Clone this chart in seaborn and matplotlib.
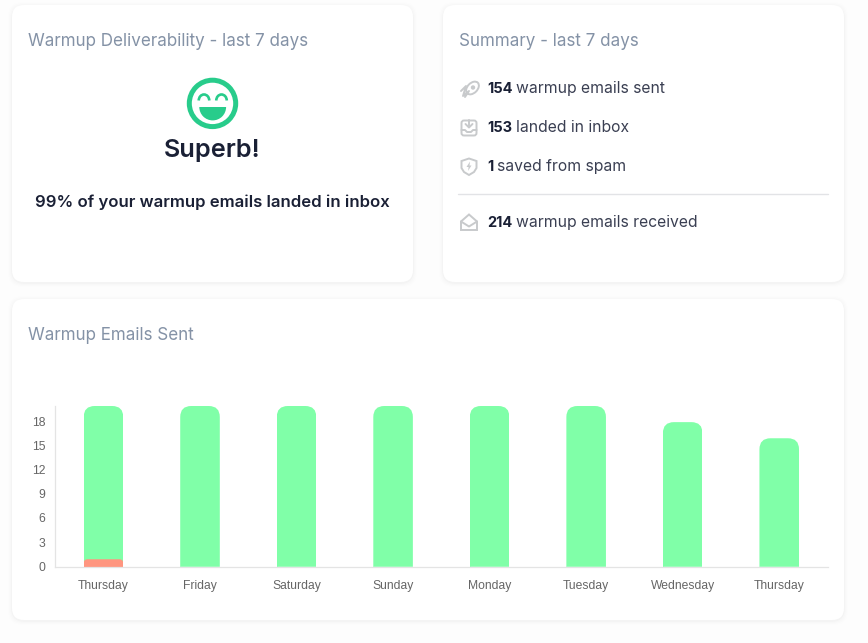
import matplotlib
matplotlib.use("Agg")
import matplotlib.pyplot as plt
import matplotlib.transforms as mtransforms
import numpy as np
import pandas as pd
import seaborn as sns
from matplotlib.patches import Arc, Circle, Ellipse, FancyBboxPatch, Polygon, Wedge

days = ["Thursday", "Friday", "Saturday", "Sunday", "Monday", "Tuesday", "Wednesday", "Thursday"]
sent = [20, 20, 20, 20, 20, 20, 18, 16]
spam = [1, 0, 0, 0, 0, 0, 0, 0]
y_ticks = [0, 3, 6, 9, 12, 15, 18]

summary_numbers = ["154", "153", "1", "214"]
summary_labels = ["warmup emails sent", "landed in inbox", "saved from spam", "warmup emails received"]

TITLE_COLOR = "#8492a6"
DARK = "#1a2035"
BODY = "#3a3f52"
ICON = "#c8cacc"
FONT = "Inter"

sns.set_theme(style="white")
plt.rcParams["font.family"] = [FONT, "DejaVu Sans"]

fig = plt.figure(figsize=(8.68, 6.43), dpi=100, facecolor="#fdfdfd")

# page layer in pixel coordinates, y going down
bg = fig.add_axes([0, 0, 1, 1])
bg.set_xlim(0, 868)
bg.set_ylim(643, 0)
bg.axis("off")


def card(x0, y0, x1, y1):
    for grow, alpha in [(4, 0.004), (3, 0.006), (2, 0.009), (1, 0.014)]:
        bg.add_patch(FancyBboxPatch((x0 - grow, y0 - grow + 1), x1 - x0 + 2 * grow, y1 - y0 + 2 * grow,
                                    boxstyle="round,pad=0,rounding_size=14", fc="black", ec="none", alpha=alpha))
    bg.add_patch(FancyBboxPatch((x0, y0), x1 - x0, y1 - y0, boxstyle="round,pad=0,rounding_size=12",
                                fc="white", ec="none"))


card(12, 5, 413, 282)
card(443, 5, 844, 282)
card(12, 299, 844, 620)

bg.text(28, 42, "Warmup Deliverability - last 7 days", color=TITLE_COLOR, fontsize=12.25, va="center")
bg.text(459, 42, "Summary - last 7 days", color=TITLE_COLOR, fontsize=12.25, va="center")
bg.text(28, 336, "Warmup Emails Sent", color=TITLE_COLOR, fontsize=12.25, va="center")

# smiley
GREEN = "#28cc8b"
bg.add_patch(Circle((212.5, 103.4), 23.2, fc="none", ec=GREEN, lw=3.6))
bg.add_patch(Wedge((212.7, 107), 13.4, 0, 180, fc=GREEN, ec="none"))
for cx in (204, 221.5):
    bg.add_patch(Arc((cx, 100.5), 10.5, 12, theta1=180, theta2=360, ec=GREEN, lw=1.9))

bg.text(212.5, 151, "Superb!", color=DARK, fontsize=18.2, fontweight="semibold", ha="center", va="center")
bg.text(212.5, 202, "99% of your warmup emails landed in inbox", color=DARK, fontsize=12,
        fontweight="semibold", ha="center", va="center")

# summary rows
row_y = [89, 128, 167, 223]
fig.canvas.draw()
renderer = fig.canvas.get_renderer()
for num, label, y in zip(summary_numbers, summary_labels, row_y):
    t = bg.text(487, y, num, color=DARK, fontsize=10.5, fontweight="bold", va="center")
    w = t.get_window_extent(renderer).width
    bg.text(487 + w + 4, y, label, color=BODY, fontsize=11.3, va="center")

bg.plot([458, 828], [194, 194], color="#e2e3e6", lw=1)

# rocket
bg.add_patch(Ellipse((472.5, 88), 15, 10, angle=-45, fc="none", ec=ICON, lw=1.4))
bg.add_patch(Circle((473, 87.5), 2.2, fc=ICON, ec="none"))
bg.plot([461, 466, 463, 469, 465], [91, 86, 96, 91, 97], color=ICON, lw=1.4)
# inbox
bg.add_patch(FancyBboxPatch((461.5, 120.5), 15, 15, boxstyle="round,pad=0,rounding_size=2.5", fc="none", ec=ICON, lw=1.4))
bg.plot([461.5, 465, 467, 471, 473, 476.5], [130, 130, 132, 132, 130, 130], color=ICON, lw=1.4)
bg.plot([469, 469], [120, 127], color=ICON, lw=1.4)
bg.plot([465.5, 469, 472.5], [124, 127.5, 124], color=ICON, lw=1.4)
# shield
bg.add_patch(Polygon([(461.5, 161), (469, 158.5), (476.5, 161), (476.5, 168), (474, 172), (469, 175), (464, 172), (461.5, 168)],
                     closed=True, fc="none", ec=ICON, lw=1.4))
bg.add_patch(Polygon([(470, 161.5), (466.5, 167), (468.6, 167), (468, 171), (471.5, 165.5), (469.5, 165.5)],
                     closed=True, fc=ICON, ec="none"))
# envelope
bg.add_patch(Polygon([(461, 221.5), (469, 214.5), (477, 221.5), (477, 230), (461, 230)], closed=True, fc="none", ec=ICON, lw=1.4))
bg.plot([461, 469, 477], [221.5, 226.5, 221.5], color=ICON, lw=1.4)

# chart
ax = fig.add_axes([55.2 / 868, (643 - 567.3) / 643, 772.3 / 868, 161.3 / 643])
ax.patch.set_alpha(0)
df = pd.DataFrame({"pos": np.arange(len(days)), "sent": sent, "spam": spam})
sns.barplot(data=df, x="pos", y="sent", color="#80ffa8", width=0.41, saturation=1, ax=ax)
n_green = len(ax.patches)
sns.barplot(data=df, x="pos", y="spam", color="#ff9680", width=0.41, saturation=1, ax=ax)
ax.set_xlim(-0.5, len(days) - 0.5)
ax.set_ylim(0, 20)
ax.set_xticks(range(len(days)), labels=days)
ax.set_yticks(y_ticks)
ax.set_xlabel("")
ax.set_ylabel("")
ax.tick_params(axis="both", length=0, labelsize=8.7, labelcolor="#666666",
               labelfontfamily="Liberation Sans")
ax.tick_params(axis="x", pad=9.5)
ax.tick_params(axis="y", pad=7)
# y labels sit a pixel above their gridline position in the original
nudge = mtransforms.ScaledTranslation(0, 1 / 100, fig.dpi_scale_trans)
for label in ax.get_yticklabels():
    label.set_transform(label.get_transform() + nudge)
for side in ("top", "right"):
    ax.spines[side].set_visible(False)
for side in ("left", "bottom"):
    ax.spines[side].set_color("#e4e4e4")
    ax.spines[side].set_linewidth(0.9)

# round the top corners of the bars by clipping them
for i, bar in enumerate(ax.patches):
    if bar.get_height() == 0:
        continue
    radius = 11 if i < n_green else 4
    (x0, y0), (x1, y1) = ax.transData.transform(
        [(bar.get_x(), 0), (bar.get_x() + bar.get_width(), bar.get_height())])
    clip = FancyBboxPatch((x0, y0 - 20), x1 - x0, y1 - y0 + 20,
                          boxstyle=f"round,pad=0,rounding_size={radius}", transform=None)
    bar.set_clip_path(clip)
    bar.set_edgecolor("none")

fig.savefig("out.png", dpi=100, facecolor=fig.get_facecolor())
